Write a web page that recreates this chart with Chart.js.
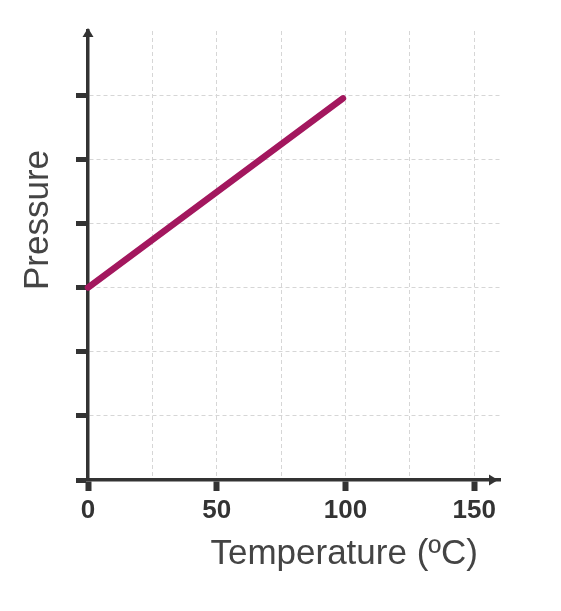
<!DOCTYPE html>
<html>
<head>
<meta charset="utf-8">
<script src="https://cdn.jsdelivr.net/npm/chart.js@4/dist/chart.umd.min.js"></script>
<style>
  html, body { margin: 0; padding: 0; background: #ffffff; }
  #wrap { width: 561px; height: 611px; position: relative; }
</style>
</head>
<body>
<div id="wrap"><canvas id="c"></canvas></div>
<script>
// ---- data ----
const temperatures = [0, 99];          // ºC
const pressures = [3, 5.95];           // arbitrary units (no labels)
const xTickLabels = [0, 50, 100, 150];
const xAxisTitle = 'Temperature (ºC)';
const yAxisTitle = 'Pressure';

const AXIS = '#333333';
const GRID = '#d6d6d6';
const LINE = '#a3175e';

const points = temperatures.map((t, i) => ({ x: t, y: pressures[i] }));

const decor = {
  id: 'decor',
  afterDraw(chart) {
    const { ctx, chartArea: a } = chart;
    ctx.save();
    ctx.fillStyle = AXIS;
    // arrow up on y axis
    ctx.beginPath();
    ctx.moveTo(a.left, a.top - 3);
    ctx.lineTo(a.left - 5.5, a.top + 6);
    ctx.lineTo(a.left + 5.5, a.top + 6);
    ctx.closePath();
    ctx.fill();
    // arrow right on x axis
    ctx.beginPath();
    ctx.moveTo(a.right - 2, a.bottom);
    ctx.lineTo(a.right - 11, a.bottom - 5.5);
    ctx.lineTo(a.right - 11, a.bottom + 5.5);
    ctx.closePath();
    ctx.fill();
    // axis titles
    ctx.fillStyle = '#444444';
    ctx.font = '35px "Liberation Sans", Arial, sans-serif';
    ctx.textAlign = 'right';
    ctx.textBaseline = 'alphabetic';
    ctx.fillText(xAxisTitle, 478, 564);
    ctx.translate(48, 220);
    ctx.rotate(-Math.PI / 2);
    ctx.textAlign = 'center';
    ctx.fillText(yAxisTitle, 0, 0);
    ctx.restore();
  }
};

new Chart(document.getElementById('c'), {
  type: 'scatter',
  data: {
    datasets: [{
      data: points,
      showLine: true,
      borderColor: LINE,
      backgroundColor: LINE,
      borderWidth: 6.5,
      borderCapStyle: 'round',
      pointRadius: 0,
      pointHoverRadius: 0,
      clip: false
    }]
  },
  options: {
    responsive: true,
    maintainAspectRatio: false,
    animation: false,
    events: [],
    layout: { padding: { top: 31, right: 61, left: 0, bottom: 0 } },
    plugins: { legend: { display: false }, tooltip: { enabled: false } },
    scales: {
      x: {
        type: 'linear',
        min: 0,
        max: 160,
        afterFit(s) { s.height = 131; },
        afterBuildTicks(s) {
          const t = [];
          for (let v = 0; v <= 150; v += 25) t.push({ value: v });
          t.push({ value: 160 });
          s.ticks = t;
        },
        ticks: {
          autoSkip: false,
          maxRotation: 0,
          padding: 4,
          color: AXIS,
          font: { family: '"Liberation Sans", Arial, sans-serif', size: 26, weight: 'bold' },
          callback: (v) => xTickLabels.includes(v) ? String(v) : ''
        },
        grid: {
          color: (c) => (c.tick && (c.tick.value === 0 || c.tick.value === 160)) ? 'rgba(0,0,0,0)' : GRID,
          lineWidth: 1,
          tickLength: 11,
          tickWidth: 6,
          tickBorderDash: [],
          tickColor: (c) => (c.tick && xTickLabels.includes(c.tick.value)) ? AXIS : 'rgba(0,0,0,0)'
        },
        border: { color: AXIS, width: 3.5, dash: [4, 3] }
      },
      y: {
        type: 'linear',
        min: 0,
        max: 7,
        afterFit(s) { s.width = 88; },
        ticks: { stepSize: 1, display: false },
        grid: {
          color: (c) => (c.tick && (c.tick.value === 0 || c.tick.value === 7)) ? 'rgba(0,0,0,0)' : GRID,
          lineWidth: 1,
          tickLength: 12,
          tickWidth: 5,
          tickBorderDash: [],
          tickColor: (c) => (c.tick && c.tick.value === 7) ? 'rgba(0,0,0,0)' : AXIS
        },
        border: { color: AXIS, width: 3.5, dash: [4, 3] }
      }
    }
  },
  plugins: [decor]
});
</script>
</body>
</html>
